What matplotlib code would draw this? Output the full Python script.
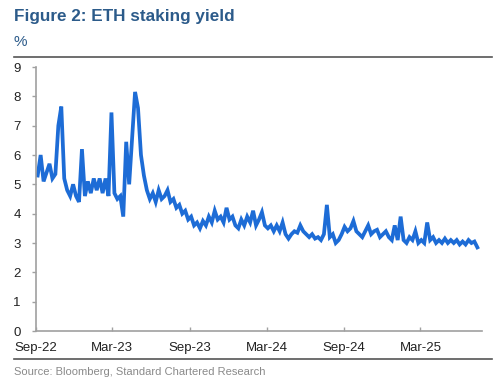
import matplotlib
matplotlib.use("Agg")
import matplotlib.pyplot as plt
import matplotlib.dates as mdates
import pandas as pd
from matplotlib.lines import Line2D

# ---- data (weekly readings of ETH staking yield, %) ----
start_date = "2022-09-05"
yield_pct = [
    5.3, 6.0, 5.1, 5.4, 5.7, 5.2, 5.35, 7.0, 7.65, 5.2,
    4.8, 4.6, 5.0, 4.6, 4.4, 6.2, 4.6, 5.1, 4.7, 5.2,
    4.8, 5.2, 4.7, 5.2, 4.6, 7.45, 4.7, 4.5, 4.6, 3.9,
    6.45, 5.0, 6.55, 8.15, 7.6, 6.0, 5.3, 4.8, 4.5, 4.7,
    4.4, 4.8, 4.5, 4.6, 4.8, 4.4, 4.5, 4.2, 4.3, 4.0,
    4.1, 3.8, 3.9, 3.6, 3.7, 3.5, 3.75, 3.6, 3.9, 3.7,
    4.1, 3.8, 3.9, 3.7, 4.2, 3.8, 3.9, 3.6, 3.5, 3.8,
    3.6, 3.9, 3.7, 4.1, 3.6, 3.8, 4.05, 3.6, 3.5, 3.6,
    3.4, 3.6, 3.4, 3.7, 3.3, 3.15, 3.3, 3.4, 3.35, 3.6,
    3.4, 3.3, 3.2, 3.3, 3.15, 3.2, 3.1, 3.3, 4.3, 3.2,
    3.3, 3.0, 3.1, 3.3, 3.55, 3.4, 3.5, 3.75, 3.4, 3.3,
    3.2, 3.4, 3.6, 3.3, 3.4, 3.45, 3.2, 3.3, 3.4, 3.2,
    3.1, 3.6, 3.1, 3.9, 3.1, 3.0, 3.2, 3.1, 3.4, 3.0,
    3.1, 3.0, 3.7, 3.1, 3.2, 3.0, 3.1, 3.0, 3.15, 3.0,
    3.1, 3.0, 3.1, 2.95, 3.05, 2.95, 3.1, 3.0, 3.05, 2.85,
]
dates = pd.date_range(start_date, periods=len(yield_pct), freq="7D")
tick_dates = pd.to_datetime(["2022-09-01", "2023-03-01", "2023-09-01",
                             "2024-03-01", "2024-09-01", "2025-03-01"])
y_ticks = list(range(0, 10))

title = "Figure 2: ETH staking yield"
unit = "%"
source = "Source: Bloomberg, Standard Chartered Research"

# ---- style ----
W, H = 500, 384
fig = plt.figure(figsize=(W / 100, H / 100), dpi=100)
fig.patch.set_facecolor("white")
narrow = ["Liberation Sans Narrow", "Liberation Sans", "DejaVu Sans"]
regular = ["Liberation Sans", "DejaVu Sans"]
title_col = "#2c5b8a"
axis_col = "#a0a0a0"
line_col = "#1d6cd6"

ax = fig.add_axes([36 / W, 1 - 331 / H, (482 - 36) / W, (331 - 67) / H])
ax.plot(dates, yield_pct, color=line_col, lw=2.7, solid_joinstyle="miter")

ax.set_ylim(0, 9)
ax.set_xlim(pd.Timestamp("2022-09-01"), pd.Timestamp("2025-07-25"))
ax.set_yticks(y_ticks)
ax.set_xticks(tick_dates)
ax.xaxis.set_major_formatter(mdates.DateFormatter("%b-%y"))
for s in ["top", "right"]:
    ax.spines[s].set_visible(False)
for s in ["left", "bottom"]:
    ax.spines[s].set_color(axis_col)
    ax.spines[s].set_linewidth(1.2)
ax.tick_params(axis="y", direction="out", length=3, width=1, color=axis_col,
               pad=8, labelsize=9.5, labelcolor="#222222")
ax.tick_params(axis="x", direction="in", length=3, width=1, color=axis_col,
               pad=8, labelsize=9.5, labelcolor="#222222")
for lab in ax.get_xticklabels() + ax.get_yticklabels():
    lab.set_family(narrow)

# header / footer
fig.text(14 / W, 1 - 16 / H, title, fontsize=12.3, fontweight="bold",
         color=title_col, family=regular, va="center", ha="left")
fig.text(14 / W, 1 - 42 / H, unit, fontsize=11, color=title_col,
         family=regular, va="center", ha="left")
fig.add_artist(Line2D([14 / W, 492 / W], [1 - 57 / H, 1 - 57 / H],
                      color="#555555", lw=1.2, transform=fig.transFigure))
fig.add_artist(Line2D([14 / W, 492 / W], [1 - 359 / H, 1 - 359 / H],
                      color="#555555", lw=1.2, transform=fig.transFigure))
fig.text(14 / W, 1 - 372 / H, source, fontsize=8, color="#8a8a8a",
         family=regular, va="center", ha="left")

fig.savefig("out.png", dpi=100, facecolor="white")
